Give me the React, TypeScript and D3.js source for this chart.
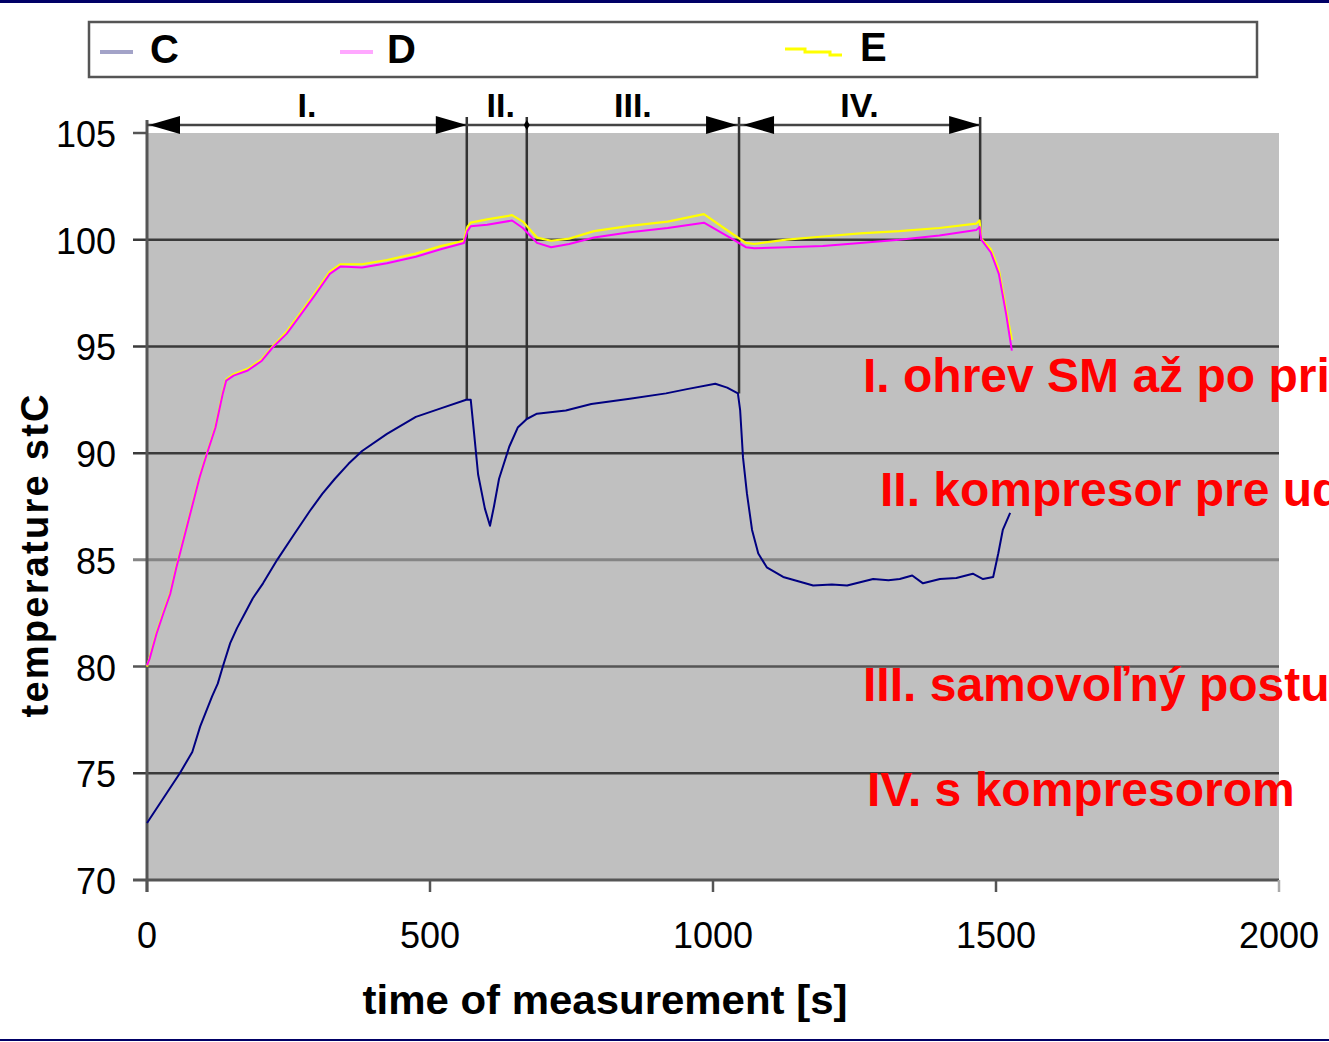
import React from "react";
import * as d3 from "d3";

// ---- data ----
const tC = [0, 58, 80, 94, 115, 125, 134, 147, 159, 173, 187, 205, 230, 260, 288, 310, 332, 356, 380, 424, 475, 519, 564, 572, 578, 585, 597, 606, 613, 622, 640, 655, 671, 689, 740, 785, 853, 917, 954, 1004, 1025, 1044, 1048, 1053, 1060, 1069, 1080, 1095, 1124, 1177, 1210, 1237, 1260, 1283, 1310, 1330, 1352, 1371, 1401, 1430, 1459, 1477, 1495, 1504, 1512, 1525];
const valC = [72.67, 75.0, 76.0, 77.2, 78.6, 79.2, 80.0, 81.1, 81.8, 82.5, 83.2, 83.9, 85.0, 86.2, 87.3, 88.1, 88.8, 89.5, 90.1, 90.9, 91.7, 92.1, 92.5, 92.5, 90.9, 89.0, 87.4, 86.6, 87.5, 88.8, 90.3, 91.2, 91.6, 91.85, 92.0, 92.3, 92.55, 92.8, 93.0, 93.25, 93.07, 92.8, 92.0, 89.8, 88.1, 86.4, 85.3, 84.65, 84.2, 83.8, 83.85, 83.8, 83.95, 84.1, 84.05, 84.1, 84.27, 83.9, 84.1, 84.15, 84.35, 84.1, 84.2, 85.3, 86.4, 87.2];

const tDE = [0, 5, 17, 29, 41, 52, 70, 93, 106, 121, 134, 140, 153, 178, 203, 222, 247, 272, 298, 323, 342, 380, 424, 475, 519, 560, 566, 572, 601, 645, 664, 689, 714, 746, 790, 853, 920, 984, 1030, 1058, 1073, 1130, 1194, 1260, 1329, 1400, 1465, 1471, 1474, 1491, 1505, 1518, 1528];
const valD = [80.06, 80.4, 81.55, 82.5, 83.4, 84.65, 86.5, 88.87, 89.98, 91.2, 92.8, 93.4, 93.63, 93.87, 94.33, 94.95, 95.6, 96.5, 97.45, 98.4, 98.75, 98.7, 98.9, 99.2, 99.55, 99.85, 100.4, 100.63, 100.7, 100.9, 100.55, 99.85, 99.65, 99.8, 100.1, 100.35, 100.55, 100.8, 100.1, 99.65, 99.6, 99.65, 99.7, 99.85, 100.0, 100.2, 100.45, 100.6, 100.0, 99.4, 98.4, 96.5, 94.8];
const valE = [80.0, 80.45, 81.6, 82.55, 83.45, 84.7, 86.55, 88.9, 90.0, 91.25, 92.85, 93.45, 93.7, 93.95, 94.4, 95.0, 95.7, 96.6, 97.55, 98.5, 98.85, 98.85, 99.05, 99.35, 99.7, 99.95, 100.6, 100.8, 100.95, 101.15, 100.85, 100.1, 99.95, 100.05, 100.4, 100.65, 100.85, 101.2, 100.35, 99.85, 99.8, 100.0, 100.15, 100.3, 100.4, 100.55, 100.75, 100.9, 100.05, 99.55, 98.6, 96.7, 95.3];

const xTicks = [0, 500, 1000, 1500, 2000];
const yTicks = [70, 75, 80, 85, 90, 95, 100, 105];
const seriesNames = ["C", "D", "E"];

const phaseBounds = [0, 565, 671, 1046, 1472];
const phaseLineEnds = [92.5, 91.6, 92.8, 100.0];
const phaseLabels = ["I.", "II.", "III.", "IV."];

const notes = ["I. ohrev SM až po pri", "II. kompresor pre ud", "III. samovoľný postu", "IV. s kompresorom"];

const FONT = "'Liberation Sans', Arial, sans-serif";

export default function App() {
  const x = d3.scaleLinear().domain([0, 2000]).range([147, 1279]);
  const y = d3.scaleLinear().domain([70, 105]).range([880, 133]);

  const line = d3
    .line<[number, number]>()
    .x((d) => x(d[0]))
    .y((d) => y(d[1]));

  const pathC = line(tC.map((t, i) => [t, valC[i]]))!;
  const pathD = line(tDE.map((t, i) => [t, valD[i]]))!;
  const pathE = line(tDE.map((t, i) => [t, valE[i]]))!;

  const arrowY = 125;
  const headLen = 31;
  const headHalf = 9;
  const leftHead = (xt: number) => `M${xt},${arrowY} L${xt + headLen},${arrowY - headHalf} L${xt + headLen},${arrowY + headHalf} Z`;
  const rightHead = (xt: number) => `M${xt},${arrowY} L${xt - headLen},${arrowY - headHalf} L${xt - headLen},${arrowY + headHalf} Z`;

  const gridColor = (v: number) => (v === 85 ? "#858585" : v === 80 ? "#555" : "#3a3a3a");

  const noteX = [863, 880, 863, 867];
  const noteY = [392, 506, 701, 806];

  const legendX = [100, 340, 785];
  const legendTextX = [150, 387, 860];

  return (
    <svg
      width={1329}
      height={1042}
      style={{ position: "absolute", left: 0, top: 0, background: "#fff" }}
      fontFamily={FONT}
    >
      {/* frame bars */}
      <rect x={0} y={0} width={1329} height={3} fill="#000066" />
      <rect x={0} y={1039} width={1329} height={2} fill="#000066" />

      {/* legend */}
      <rect x={89} y={22} width={1168} height={55} fill="#fff" stroke="#555" strokeWidth={2.5} />
      <line x1={legendX[0]} x2={legendX[0] + 33} y1={52} y2={52} stroke="#a3a3c8" strokeWidth={4} />
      <line x1={legendX[1]} x2={legendX[1] + 33} y1={52} y2={52} stroke="#ffa8ff" strokeWidth={4} />
      <path
        d={`M${legendX[2]},49 H${legendX[2] + 20} V52 H${legendX[2] + 45} V55 H${legendX[2] + 57}`}
        fill="none"
        stroke="#ffff00"
        strokeWidth={3}
      />
      {seriesNames.map((n, i) => (
        <text key={n} x={legendTextX[i]} y={i === 2 ? 61 : 63} fontSize={40} fontWeight="bold" fill="#000">
          {n}
        </text>
      ))}

      {/* plot background */}
      <rect x={x(0)} y={y(105)} width={x(2000) - x(0)} height={y(70) - y(105)} fill="#c0c0c0" />

      {/* grid lines */}
      {yTicks
        .filter((v) => v > 70 && v < 105)
        .map((v) => (
          <line key={v} x1={133} x2={x(2000)} y1={y(v)} y2={y(v)} stroke={gridColor(v)} strokeWidth={v === 85 ? 3 : 2.5} />
        ))}
      <line x1={133} x2={x(0)} y1={y(105)} y2={y(105)} stroke="#555" strokeWidth={2.5} />

      {/* axes */}
      <line x1={x(0)} x2={x(0)} y1={120} y2={892} stroke="#555" strokeWidth={3} />
      <line x1={133} x2={x(2000)} y1={y(70)} y2={y(70)} stroke="#555" strokeWidth={3} />
      {xTicks.map((v) => (
        <line key={v} x1={x(v)} x2={x(v)} y1={y(70)} y2={892} stroke={v === 2000 ? "#aaa" : "#555"} strokeWidth={2.5} />
      ))}

      {/* tick labels */}
      {yTicks.map((v) => (
        <text key={v} x={116} y={y(v) + 14} fontSize={36} textAnchor="end" fill="#000">
          {v}
        </text>
      ))}
      {xTicks.map((v) => (
        <text key={v} x={x(v)} y={948} fontSize={36} textAnchor="middle" fill="#000">
          {v}
        </text>
      ))}

      {/* axis titles */}
      <text
        transform={`translate(48,556) rotate(-90)`}
        fontSize={38}
        fontWeight="bold"
        textAnchor="middle"
        textLength={323}
        lengthAdjust="spacing"
        fill="#000"
      >
        temperature stC
      </text>
      <text x={605} y={1014} fontSize={40} fontWeight="bold" textAnchor="middle" textLength={485} lengthAdjust="spacingAndGlyphs" fill="#000">
        time of measurement [s]
      </text>

      {/* phase boundary lines */}
      {phaseBounds.slice(1).map((b, i) => (
        <line key={b} x1={x(b)} x2={x(b)} y1={117} y2={y(phaseLineEnds[i])} stroke="#333" strokeWidth={2.5} />
      ))}
      <line x1={x(0)} x2={x(phaseBounds[4])} y1={arrowY} y2={arrowY} stroke="#444" strokeWidth={2.5} />
      <path d={leftHead(x(phaseBounds[0]) + 2)} fill="#000" />
      <path d={rightHead(x(phaseBounds[1]))} fill="#000" />
      <path
        d={`M${x(phaseBounds[2])},${arrowY - 5} L${x(phaseBounds[2]) + 3},${arrowY} L${x(phaseBounds[2])},${arrowY + 5} L${x(phaseBounds[2]) - 3},${arrowY} Z`}
        fill="#000"
      />
      <path d={rightHead(x(phaseBounds[3]) - 2)} fill="#000" />
      <path d={leftHead(x(phaseBounds[3]) + 4)} fill="#000" />
      <path d={rightHead(x(phaseBounds[4]))} fill="#000" />
      {phaseLabels.map((l, i) => (
        <text
          key={l}
          x={(x(phaseBounds[i]) + x(phaseBounds[i + 1])) / 2 + (i === 1 ? 4 : 0)}
          y={117}
          fontSize={34}
          fontWeight="bold"
          textAnchor="middle"
          fill="#000"
        >
          {l}
        </text>
      ))}

      {/* series */}
      <path d={pathC} fill="none" stroke="#000080" strokeWidth={2} strokeLinejoin="round" />
      <path d={pathE} fill="none" stroke="#ffff00" strokeWidth={2.2} strokeLinejoin="round" />
      <path d={pathD} fill="none" stroke="#ff00ff" strokeWidth={2} strokeLinejoin="round" />

      {/* annotations (clipped at the right edge, as in the original slide) */}
      {notes.map((n, i) => (
        <text key={n} x={noteX[i]} y={noteY[i]} fontSize={48} fontWeight="bold" fill="#ff0000">
          {n}
        </text>
      ))}
    </svg>
  );
}
